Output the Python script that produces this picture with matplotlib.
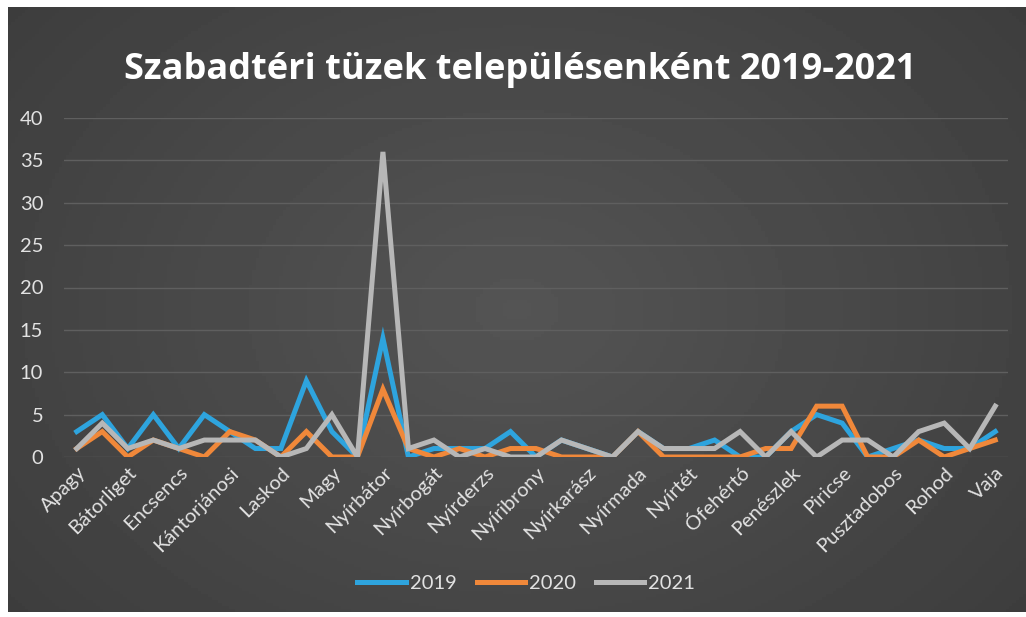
import numpy as np
import matplotlib.pyplot as plt

# településenkénti szabadtéri tüzek (a páratlan sorszámú nevek a képen nem láthatók)
telepulesek = ['Apagy', 'Baktalórántháza', 'Bátorliget', 'Besenyőd', 'Encsencs', 'Hodász',
               'Kántorjánosi', 'Kisléta', 'Laskod', 'Levelek', 'Magy', 'Máriapócs',
               'Nyírbátor', 'Nyírbéltek', 'Nyírbogát', 'Nyírcsászári', 'Nyírderzs', 'Nyírgyulaj',
               'Nyíribrony', 'Nyírjákó', 'Nyírkarász', 'Nyírlugos', 'Nyírmada', 'Nyírpilis',
               'Nyírtét', 'Nyírvasvári', 'Ófehértó', 'Ömböly', 'Penészlek', 'Petneháza',
               'Piricse', 'Pócspetri', 'Pusztadobos', 'Ramocsaháza', 'Rohod', 'Terem', 'Vaja']
ev2019 = [3, 5, 1, 5, 1, 5, 3, 1, 1, 9, 3, 0, 14, 0, 1, 1, 1, 3, 0, 2, 1, 0, 3, 1, 1, 2, 0, 0,
          3, 5, 4, 0, 1, 2, 1, 1, 3]
ev2020 = [1, 3, 0, 2, 1, 0, 3, 2, 0, 3, 0, 0, 8, 1, 0, 1, 0, 1, 1, 0, 0, 0, 3, 0, 0, 0, 0, 1,
          1, 6, 6, 0, 0, 2, 0, 1, 2]
ev2021 = [1, 4, 1, 2, 1, 2, 2, 2, 0, 1, 5, 0, 36, 1, 2, 0, 1, 0, 0, 2, 1, 0, 3, 1, 1, 1, 3, 0,
          3, 0, 2, 2, 0, 3, 4, 1, 6]
evek = ['2019', '2020', '2021']
szinek = ['#2ea4de', '#f0883a', '#b7b7b7']

fig = plt.figure(figsize=(10.26, 6.17), dpi=100, facecolor='white')

# sötétszürke háttér enyhe színátmenettel
bg = fig.add_axes([8 / 1026, 5 / 617, 1018 / 1026, 605 / 617])
yy, xx = np.mgrid[-1:1:200j, -1:1:300j]
r = np.sqrt(xx ** 2 + (yy * 0.8) ** 2)
bg.imshow(0.33 - 0.07 * r, cmap='gray', vmin=0, vmax=1, aspect='auto', extent=[0, 1, 0, 1])
bg.axis('off')

ax = fig.add_axes([64 / 1026, 160 / 617, 944 / 1026, 339 / 617])
ax.set_facecolor('none')
x = np.arange(len(telepulesek))
for vals, ev, c in zip([ev2019, ev2020, ev2021], evek, szinek):
    ax.plot(x, vals, color=c, lw=3.6, label=ev, solid_joinstyle='miter')

ax.set_xlim(-0.5, len(telepulesek) - 0.5)
ax.set_ylim(0, 40)
ax.set_yticks(range(0, 41, 5))
ax.set_xticks(x[::2])
ax.set_xticklabels(telepulesek[::2], rotation=45, ha='right', rotation_mode='anchor',
                   fontsize=14.5, color='#e2e2e2', family='Lato')
ax.tick_params(axis='y', labelsize=14.5, labelcolor='#e2e2e2', length=0, pad=15)
ax.tick_params(axis='x', length=0, pad=5)
for t in ax.get_yticklabels():
    t.set_family('Lato')
ax.grid(axis='y', color='#5f5f5f', lw=1)
ax.set_axisbelow(True)
for s in ax.spines.values():
    s.set_visible(False)

fig.text(0.507, 0.887, 'Szabadtéri tüzek településenként 2019-2021', ha='center', va='center',
         fontsize=26, fontweight='bold', color='white', family='Open Sans')

leg = fig.legend(loc='center', bbox_to_anchor=(0.513, 0.055), ncol=3, frameon=False,
                 handlelength=2.4, columnspacing=1.0, handletextpad=0.2,
                 prop={'family': 'Lato', 'size': 14.5})
for t in leg.get_texts():
    t.set_color('#e2e2e2')

fig.savefig('out.png', dpi=100, facecolor='white')
